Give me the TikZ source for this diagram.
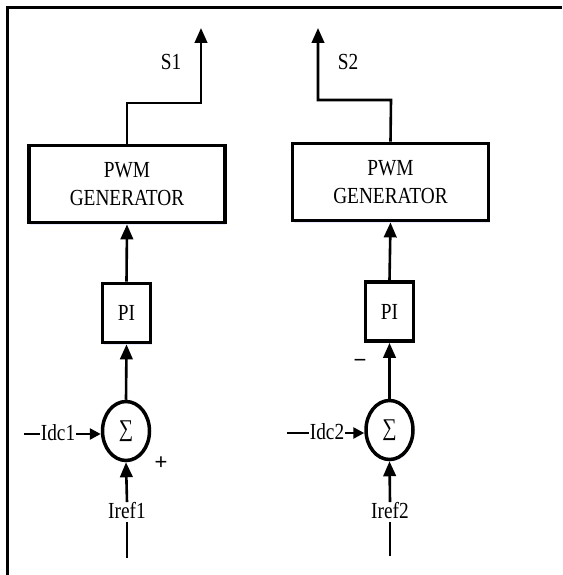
\documentclass[tikz,border=0pt]{standalone}
\usepackage{fontspec}
\setmainfont{Liberation Serif}[FakeStretch=0.84]
\newfontfamily\signfont{Liberation Sans}
\usetikzlibrary{arrows.meta,shadows,shapes.geometric}
\tikzset{
  blk/.style={draw, line width=3.8pt, fill=white, inner sep=0pt, align=center,
     font=\fontsize{23}{28}\selectfont,
     drop shadow={shadow xshift=1pt, shadow yshift=-2pt, fill=blue!25, opacity=0.35}},
  sumnode/.style={draw, ellipse, line width=3.5pt, fill=white, minimum width=47pt, minimum height=59pt, inner sep=0pt,
     drop shadow={shadow xshift=1pt, shadow yshift=-2pt, fill=blue!25, opacity=0.35}},
  lbl/.style={font=\fontsize{23}{27}\selectfont, inner sep=0.5pt},
  sign/.style={font=\signfont\fontsize{22}{22}\selectfont, inner sep=0.5pt},
  conn/.style={line width=2.6pt},
  arr/.style={conn, -{Triangle[length=15pt,width=12.5pt]}},
  sarr/.style={conn, -{Triangle[length=11pt,width=11pt]}},
}
\begin{document}
\begin{tikzpicture}[x=1pt,y=-1pt]
\useasboundingbox (0,0) rectangle (562,575);
% frame
\draw[line width=2.8pt] (7.5,575) -- (7.5,7.5) -- (562,7.5);

% ---------- left channel ----------
\node[blk, minimum width=196pt, minimum height=77pt] (pwm1) at (127,184) {PWM\\GENERATOR};
\node[blk, minimum width=48pt, minimum height=59pt] (pi1) at (126.5,313) {PI};
\node[sumnode] (sum1) at (126,431) {\fontsize{24}{24}\selectfont ∑};
\coordinate (s1bend) at (127,103);
\coordinate (s1turn) at (201,103);
\coordinate (s1end) at (201,28);
\draw[arr] (pwm1.north) -- (s1bend) -- (s1turn) -- (s1end);
\node[lbl] (s1) at (171,62) {S1};
\draw[arr] (pi1.north) -- (pwm1.south);
\draw[arr] (sum1.north) -- (pi1.south);
\coordinate (idc1s) at (24,434);
\node[lbl, inner sep=1pt] (idc1) at (58,433) {Idc1};
\draw[conn] (idc1s) -- (idc1s -| idc1.west);
\draw[sarr] (idc1.east |- idc1s) -- (sum1.west |- idc1s);
\node[lbl] (iref1) at (127,511) {Iref1};
\coordinate (iref1s) at (127,558);
\draw[arr] (iref1.north) -- (sum1.south);
\draw[conn] (iref1s) -- ([yshift=-2pt]iref1.south);
\node[sign] (plus1) at (161,463) {+};

% ---------- right channel ----------
\node[blk, minimum width=196pt, minimum height=77pt] (pwm2) at (390.5,182) {PWM\\GENERATOR};
\node[blk, minimum width=48pt, minimum height=59pt] (pi2) at (389.5,311.5) {PI};
\node[sumnode] (sum2) at (389.5,430) {\fontsize{24}{24}\selectfont ∑};
\coordinate (s2bend) at (391,100);
\coordinate (s2turn) at (318,100);
\coordinate (s2end) at (318,28);
\draw[arr] (pwm2.north) -- (s2bend) -- (s2turn) -- (s2end);
\node[lbl] (s2) at (348,62) {S2};
\draw[arr] (pi2.north) -- (pwm2.south);
\draw[arr] (sum2.north) -- (pi2.south);
\coordinate (idc2s) at (287,433);
\node[lbl, inner sep=1pt] (idc2) at (327,432) {Idc2};
\draw[conn] (idc2s) -- (idc2s -| idc2.west);
\draw[sarr] (idc2.east |- idc2s) -- (sum2.west |- idc2s);
\node[lbl] (iref2) at (390,511) {Iref2};
\coordinate (iref2s) at (390,556);
\draw[arr] (iref2.north) -- (sum2.south);
\draw[conn] (iref2s) -- ([yshift=-2pt]iref2.south);
\node[sign] (minus2) at (360,363) {−};
\end{tikzpicture}
\end{document}
